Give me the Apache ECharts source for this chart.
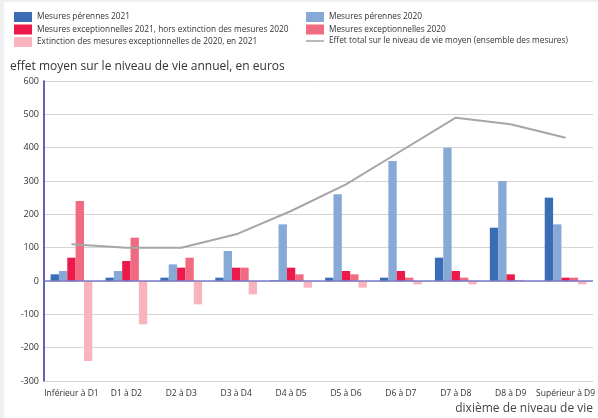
<!DOCTYPE html>
<html>
<head>
<meta charset="utf-8">
<script src="https://cdn.jsdelivr.net/npm/echarts@6/dist/echarts.min.js"></script>
<style>
  html, body { margin: 0; padding: 0; background: #fff; }
  #chart { width: 598px; height: 418px; box-sizing: border-box; border-left: 4px solid #f0f0f0; border-top: 2px solid #f0f0f0; }
</style>
</head>
<body>
<div id="chart"></div>
<script>
// dixièmes de niveau de vie
var categories = ['Inférieur à D1', 'D1 à D2', 'D2 à D3', 'D3 à D4', 'D4 à D5', 'D5 à D6', 'D6 à D7', 'D7 à D8', 'D8 à D9', 'Supérieur à D9'];
// valeurs (euros)
var perennes2021 = [20, 10, 10, 10, 2, 10, 10, 70, 160, 250];
var perennes2020 = [30, 30, 50, 90, 170, 260, 360, 400, 300, 170];
var excep2021 = [70, 60, 40, 40, 40, 30, 30, 30, 20, 10];
var excep2020 = [240, 130, 70, 40, 20, 20, 10, 10, 2, 10];
var extinction = [-240, -130, -70, -40, -20, -20, -10, -10, -2, -10];
var effetTotal = [110, 100, 100, 140, 210, 290, 390, 490, 470, 430];

var noms = {
  p21: 'Mesures pérennes 2021',
  p20: 'Mesures pérennes 2020',
  e21: 'Mesures exceptionnelles 2021, hors extinction des mesures 2020',
  e20: 'Mesures exceptionnelles 2020',
  ext: 'Extinction des mesures exceptionnelles de 2020, en 2021',
  tot: 'Effet total sur le niveau de vie moyen (ensemble des mesures)'
};

var myChart = echarts.init(document.getElementById('chart'));
var fonte = '"Open Sans", sans-serif';

function barre(nom, data, couleur) {
  return {
    name: nom, type: 'bar', data: data,
    barGap: '0%', barCategoryGap: '24%',
    itemStyle: { color: couleur },
    emphasis: { disabled: true }
  };
}

var legendeCommune = {
  orient: 'vertical', top: 5, icon: 'rect', itemWidth: 18, itemHeight: 10, itemGap: 2.5,
  textStyle: { fontSize: 8.3, color: '#333', fontFamily: fonte }
};

var option = {
  animation: false,
  textStyle: { fontFamily: fonte },
  legend: [
    Object.assign({ left: 5, data: [noms.p21, noms.e21, noms.ext] }, legendeCommune),
    Object.assign({ left: 297, data: [noms.p20, noms.e20, { name: noms.tot, icon: 'path://M0,4.2L18,4.2L18,5.8L0,5.8Z', itemStyle: { color: '#a6a6a6' } }] }, legendeCommune)
  ],
  grid: { left: 40, right: 2, top: 79, bottom: 37 },
  xAxis: {
    type: 'category', data: categories,
    name: 'dixième de niveau de vie', nameLocation: 'end',
    nameGap: 0,
    nameTextStyle: { fontSize: 12, color: '#444', align: 'right', verticalAlign: 'top', padding: [22, 0, 0, 0] },
    axisLine: { show: false, onZero: false },
    axisTick: { show: false },
    axisLabel: { fontSize: 8.5, color: '#333', margin: 8, interval: 0 }
  },
  yAxis: {
    type: 'value', min: -300, max: 600, interval: 100,
    name: 'effet moyen sur le niveau de vie annuel, en euros',
    nameLocation: 'end', nameGap: 8,
    nameTextStyle: { fontSize: 12, color: '#333', align: 'left', padding: [0, 0, 0, -34] },
    axisLine: { show: true, lineStyle: { color: '#2e2ea0', width: 1.5 } },
    axisTick: { show: false },
    axisLabel: { fontSize: 9, color: '#333', margin: 5 },
    splitLine: { lineStyle: { color: '#d4d4d4', width: 1 } }
  },
  series: [
    Object.assign(barre(noms.p21, perennes2021, '#3a6db5'), {
      markLine: {
        silent: true, symbol: 'none', label: { show: false },
        lineStyle: { color: '#7b7bc8', width: 1.5, type: 'solid' },
        data: [{ yAxis: 0 }]
      }
    }),
    barre(noms.p20, perennes2020, '#87a9d6'),
    barre(noms.e21, excep2021, '#ec1a4b'),
    barre(noms.e20, excep2020, '#f06a82'),
    barre(noms.ext, extinction, '#f9b3bd'),
    {
      name: noms.tot, type: 'line', data: effetTotal,
      symbol: 'none', z: 5,
      lineStyle: { color: '#a6a6a6', width: 2 },
      itemStyle: { color: '#a6a6a6' }
    }
  ]
};

myChart.setOption(option);
</script>
</body>
</html>
